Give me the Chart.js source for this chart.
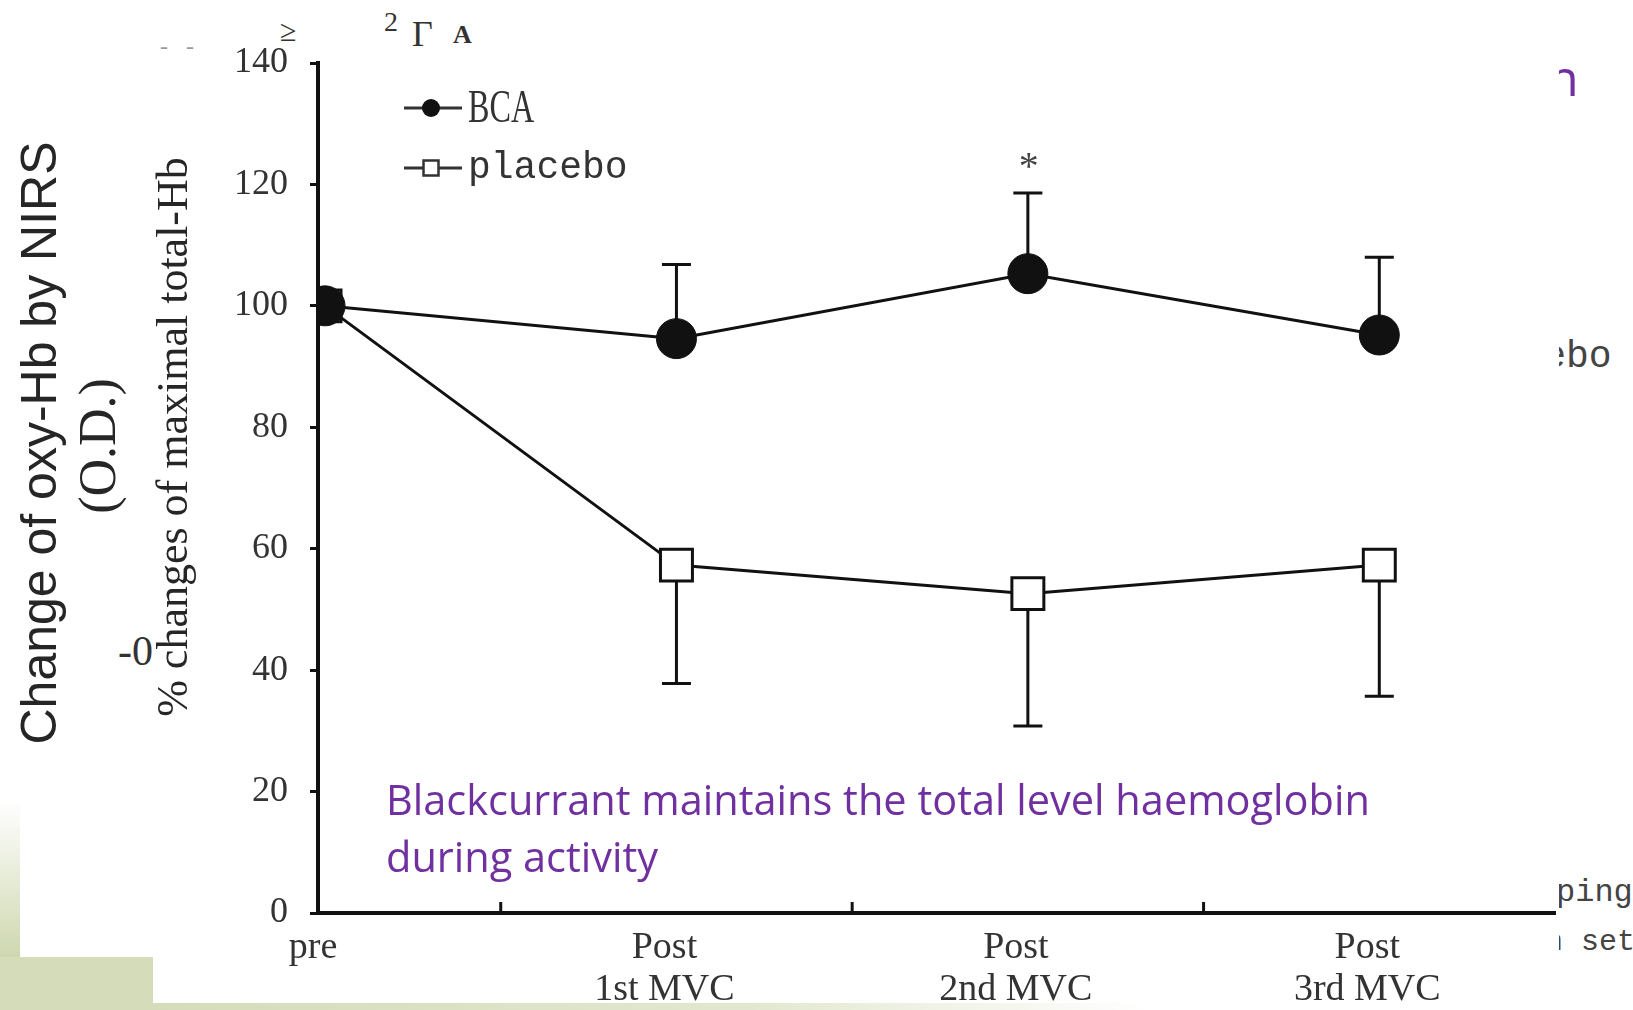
<!DOCTYPE html>
<html>
<head>
<meta charset="utf-8">
<script src="https://cdn.jsdelivr.net/npm/chart.js@4.4.1/dist/chart.umd.min.js"></script>
<style>
  html, body { margin: 0; padding: 0; background: #fff; }
  #wrap { position: relative; width: 1633px; height: 1010px; overflow: hidden; }
  #chart { position: absolute; left: 0; top: 0; }
  .bg { position: absolute; }
  .txt { position: absolute; white-space: nowrap; line-height: 1; }
  .serif { font-family: "Liberation Serif", serif; color: #333; }
  .mono { font-family: "Liberation Mono", monospace; color: #444; }
  #caption {
    position: absolute; left: 386px; top: 771px;
    font-family: "Open Sans", sans-serif; font-size: 41.5px; line-height: 57px;
    color: #7030a0; white-space: nowrap;
  }
</style>
</head>
<body>
<div id="wrap">
  <!-- slide decoration behind the chart image -->
  <div class="bg" style="left:0;top:800px;width:20px;height:160px;background:linear-gradient(#ffffff,#cdd7ae)"></div>
  <div class="bg" style="left:0;top:957px;width:156px;height:53px;background:#d4dcb9"></div>
  <div class="bg" style="left:150px;top:1003px;width:1000px;height:7px;background:linear-gradient(to right,#d4dcb9,#e2e8cf 60%,rgba(255,255,255,0))"></div>

  <div class="txt serif" style="left:384px;top:8px;font-size:28px">2</div>
  <div class="txt serif" style="left:412px;top:16px;font-size:36px">Γ</div>
  <div class="txt serif" style="left:453px;top:22px;font-size:26px;font-weight:bold">A</div>
  <div class="txt serif" style="left:280px;top:16px;font-size:30px">≥</div>
  <div class="txt serif" style="left:160px;top:34px;font-size:24px;color:#999">-&nbsp;&nbsp;&nbsp;-</div>
  <div class="txt serif" style="left:118px;top:630px;font-size:42px">-0</div>
  <div class="txt" style="left:1548px;top:52px;font-size:50px;font-family:'Open Sans',sans-serif;color:#7030a0">n</div>
  <div class="txt mono" style="left:1452px;top:338px;font-size:38px">placebo</div>
  <div class="txt mono" style="left:1556px;top:877px;font-size:32px">ping</div>
  <div class="txt mono" style="left:1545px;top:927px;font-size:30px">n set</div>

  <canvas id="chart" width="1633" height="1010"></canvas>
  <div id="caption">Blackcurrant maintains the total level haemoglobin<br>during activity</div>
</div>

<script>
const timePoints = [0, 1, 2, 3];
const xLabels = [['pre'], ['Post', '1st MVC'], ['Post', '2nd MVC'], ['Post', '3rd MVC']];
const xTickMarks = [0.5, 1.5, 2.5];

const bcaValues = [100, 94.6, 105.3, 95.2];
const bcaSD = [0, 12.2, 13.3, 12.8];
const placeboValues = [100, 57.3, 52.6, 57.3];
const placeboSD = [0, 19.5, 21.8, 21.6];
const sigMarks = ['', '', '*', ''];

const yTitleMain = 'Change of oxy-Hb by NIRS';
const yTitleUnit = '(O.D.)';
const yTitleInner = '% changes of maximal total-Hb';

const INK = '#111';

function toPoints(values) {
    return timePoints.map((x, i) => ({ x: x, y: values[i] }));
}

// white box of the pasted chart picture + the axis titles around it
const slidePlugin = {
    id: 'slide',
    beforeDraw(chart) {
        const ctx = chart.ctx;
        ctx.save();
        ctx.fillStyle = '#fff';
        ctx.fillRect(153, 56, 1406, 947);
        ctx.restore();
    },
    afterDraw(chart) {
        const ctx = chart.ctx;
        ctx.save();
        ctx.fillStyle = '#262626';
        ctx.textAlign = 'center';
        ctx.textBaseline = 'alphabetic';

        ctx.save();
        ctx.translate(56, 443);
        ctx.rotate(-Math.PI / 2);
        ctx.font = '50px "Liberation Sans", Arial, sans-serif';
        ctx.fillText(yTitleMain, 0, 0);
        ctx.restore();

        ctx.save();
        ctx.translate(115, 446);
        ctx.rotate(-Math.PI / 2);
        ctx.font = '52px "Liberation Serif", serif';
        ctx.fillText(yTitleUnit, 0, 0);
        ctx.restore();

        ctx.save();
        ctx.translate(187, 437);
        ctx.rotate(-Math.PI / 2);
        ctx.font = '44px "Liberation Serif", serif';
        ctx.fillText(yTitleInner, 0, 0);
        ctx.restore();

        ctx.restore();
    }
};

// one-sided error bars: BCA up, placebo down
const errorBarPlugin = {
    id: 'errorBars',
    beforeDatasetsDraw(chart) {
        const ctx = chart.ctx;
        const xs = chart.scales.x;
        const ys = chart.scales.y;
        ctx.save();
        ctx.strokeStyle = INK;
        ctx.lineWidth = 3;
        chart.data.datasets.forEach(ds => {
            ds.values.forEach((v, i) => {
                const sd = ds.sd[i];
                if (!sd) return;
                const x = xs.getPixelForValue(timePoints[i]);
                const y0 = ys.getPixelForValue(v);
                const y1 = ys.getPixelForValue(v + ds.errDir * sd);
                ctx.beginPath();
                ctx.moveTo(x, y0);
                ctx.lineTo(x, y1);
                ctx.moveTo(x - 14.5, y1);
                ctx.lineTo(x + 14.5, y1);
                ctx.stroke();
            });
        });

        // inner tick marks of the x axis
        ctx.lineWidth = 3;
        xTickMarks.forEach(v => {
            const x = xs.getPixelForValue(v);
            ctx.beginPath();
            ctx.moveTo(x, xs.top);
            ctx.lineTo(x, xs.top - 11);
            ctx.stroke();
        });
        ctx.restore();
    },
    afterDatasetsDraw(chart) {
        const ctx = chart.ctx;
        const xs = chart.scales.x;
        const ys = chart.scales.y;
        ctx.save();
        ctx.fillStyle = '#444';
        ctx.font = '40px "Liberation Serif", serif';
        ctx.textAlign = 'center';
        ctx.textBaseline = 'alphabetic';
        sigMarks.forEach((m, i) => {
            if (!m) return;
            const x = xs.getPixelForValue(timePoints[i]);
            const y = ys.getPixelForValue(bcaValues[i] + bcaSD[i]);
            ctx.fillText(m, x + 1, y - 14);
        });
        ctx.restore();
    }
};

// legend drawn as  -●- BCA  /  -□- placebo
const legendPlugin = {
    id: 'lineLegend',
    afterDraw(chart) {
        const ctx = chart.ctx;
        const rows = [108, 168];
        ctx.save();
        chart.data.datasets.forEach((ds, i) => {
            const y = rows[i];
            ctx.strokeStyle = '#333';
            ctx.lineWidth = 3;
            ctx.beginPath();
            ctx.moveTo(404, y);
            ctx.lineTo(462, y);
            ctx.stroke();
            if (ds.pointStyle === 'circle') {
                ctx.fillStyle = INK;
                ctx.beginPath();
                ctx.arc(431, y, 9, 0, Math.PI * 2);
                ctx.fill();
            } else {
                ctx.fillStyle = '#fff';
                ctx.fillRect(423.5, y - 7.5, 15, 15);
                ctx.lineWidth = 2.5;
                ctx.strokeRect(423.5, y - 7.5, 15, 15);
            }
            ctx.fillStyle = '#333';
            ctx.textAlign = 'left';
            ctx.textBaseline = 'middle';
            if (i === 0) {
                ctx.save();
                ctx.translate(468, y + 2);
                ctx.scale(0.7, 1);
                ctx.font = '46px "Liberation Serif", serif';
                ctx.fillText(ds.label, 0, 0);
                ctx.restore();
            } else {
                ctx.font = '38px "Liberation Mono", monospace';
                ctx.fillText(ds.label, 468, y);
            }
        });
        ctx.restore();
    }
};

const ctx = document.getElementById('chart').getContext('2d');
new Chart(ctx, {
    type: 'line',
    data: {
        datasets: [
            {
                label: 'BCA',
                data: toPoints(bcaValues),
                values: bcaValues,
                sd: bcaSD,
                errDir: 1,
                borderColor: INK,
                borderWidth: 3,
                pointStyle: 'circle',
                pointRadius: 20,
                pointBackgroundColor: INK,
                pointBorderColor: INK,
                pointBorderWidth: 1,
                tension: 0
            },
            {
                label: 'placebo',
                data: toPoints(placeboValues),
                values: placeboValues,
                sd: placeboSD,
                errDir: -1,
                borderColor: INK,
                borderWidth: 3,
                pointStyle: 'rect',
                pointRadius: 22.6,
                pointBackgroundColor: '#fff',
                pointBorderColor: INK,
                pointBorderWidth: 3,
                tension: 0
            }
        ]
    },
    options: {
        responsive: false,
        animation: false,
        events: [],
        layout: { padding: { left: 0, top: 63, right: 78, bottom: 0 } },
        plugins: {
            legend: { display: false },
            tooltip: { enabled: false }
        },
        scales: {
            x: {
                type: 'linear',
                min: -0.02,
                max: 3.5,
                afterBuildTicks: scale => {
                    scale.ticks = timePoints.map(v => ({ value: v }));
                },
                afterFit: scale => { scale.height = 97; },
                grid: { display: false, drawTicks: false },
                border: { display: true, color: INK, width: 4 },
                ticks: {
                    autoSkip: false,
                    maxRotation: 0,
                    padding: 14,
                    labelOffset: -12,
                    color: '#333',
                    font: { family: '"Liberation Serif", serif', size: 38, lineHeight: 1.1 },
                    callback: (value, index) => xLabels[index]
                }
            },
            y: {
                min: 0,
                max: 140,
                afterFit: scale => { scale.width = 318; },
                grid: {
                    drawOnChartArea: false,
                    drawTicks: true,
                    tickLength: 8,
                    color: INK,
                    lineWidth: 3
                },
                border: { display: true, color: INK, width: 4 },
                ticks: {
                    stepSize: 20,
                    padding: 22,
                    color: '#333',
                    font: { family: '"Liberation Serif", serif', size: 36 }
                }
            }
        }
    },
    plugins: [slidePlugin, errorBarPlugin, legendPlugin]
});
</script>
</body>
</html>
